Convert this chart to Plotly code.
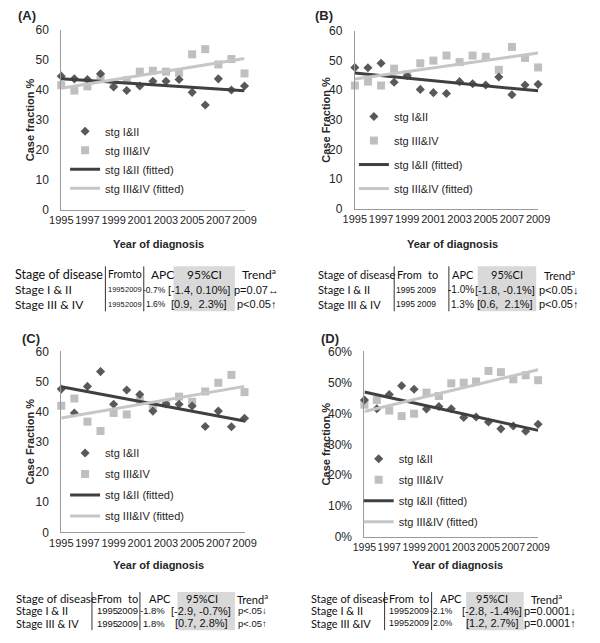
import plotly.graph_objects as go

# The page body adds an 8px margin, so the figure is sized to fit inside it
OFF = 8
W, H = 600 - OFF, 643 - OFF


def px(x):
    return (x - OFF) / W


def py(y):
    return 1 - (y - OFF) / H


# ---------------- data ----------------
years = [1995, 1996, 1997, 1998, 1999, 2000, 2001, 2002, 2003, 2004, 2005, 2006, 2007, 2008, 2009]
fit_years = [1995, 2009]
tick_years = [1995, 1997, 1999, 2001, 2003, 2005, 2007, 2009]

A_stg12 = [44.5, 43.6, 43.4, 45.3, 40.9, 39.7, 41.2, 42.8, 42.8, 43.4, 39.1, 34.9, 43.6, 39.9, 41.2]
A_stg34 = [41.5, 39.7, 41.1, 44.0, 42.0, 43.1, 46.0, 46.3, 46.0, 45.6, 51.8, 53.5, 48.4, 50.2, 45.4]
A_fit12 = [43.6, 39.6]
A_fit34 = [40.5, 50.4]

B_stg12 = [47.6, 47.5, 49.0, 42.6, 44.8, 40.2, 39.1, 38.8, 42.8, 42.1, 41.7, 44.4, 38.4, 41.7, 41.9]
B_stg34 = [41.5, 42.8, 41.5, 47.2, 45.2, 49.0, 49.9, 51.6, 49.4, 51.6, 51.2, 46.8, 54.5, 50.8, 47.6]
B_fit12 = [45.7, 39.7]
B_fit34 = [43.7, 52.5]

C_stg12 = [47.5, 39.6, 48.4, 53.3, 42.5, 47.2, 45.7, 40.2, 42.6, 42.5, 41.9, 35.1, 40.2, 35.0, 37.8]
C_stg34 = [42.0, 44.4, 36.7, 33.6, 39.6, 39.1, 43.8, 42.0, 42.8, 45.0, 43.3, 46.7, 49.6, 52.2, 46.5]
C_fit12 = [48.3, 36.9]
C_fit34 = [37.9, 48.4]

D_stg12 = [44.3, 41.5, 46.1, 48.9, 47.8, 41.4, 42.2, 41.5, 38.7, 38.8, 37.2, 35.0, 35.9, 34.2, 36.5]
D_stg34 = [42.8, 44.3, 40.9, 39.1, 39.9, 46.7, 45.6, 49.7, 49.9, 50.3, 53.7, 53.3, 51.0, 52.3, 50.7]
D_fit12 = [46.9, 34.5]
D_fit34 = [40.6, 54.1]

series_names = ["stg I&II", "stg III&IV", "stg I&II (fitted)", "stg III&IV (fitted)"]

table_header = ["Stage of disease", "From", "to", "APC", "95%CI", "Trend<sup>a</sup>"]
A_rows = [["Stage I & II", "1995", "2009", "-0.7%", "[-1.4, 0.10%]", "p=0.07\u2194"],
          ["Stage III & IV", "1995", "2009", "1.6%", "[0.9,  2.3%]", "p<0.05\u2191"]]
B_rows = [["Stage I & II", "1995", "2009", "-1.0%", "[-1.8, -0.1%]", "p<0.05\u2193"],
          ["Stage III & IV", "1995", "2009", "1.3%", "[0.6,  2.1%]", "p<0.05\u2191"]]
C_rows = [["Stage I & II", "1995", "2009", "-1.8%", "[-2.9, -0.7%]", "p<.05\u2193"],
          ["Stage III & IV", "1995", "2009", "1.8%", "[0.7, 2.8%]", "p<.05\u2191"]]
D_rows = [["Stage I & II", "1995", "2009", "-2.1%", "[-2.8, -1.4%]", "p=0.0001\u2193"],
          ["Stage III &IV", "1995", "2009", "2.0%", "[1.2, 2.7%]", "p=0.0001\u2191"]]

# ---------------- style ----------------
FONT = "Liberation Sans, Arial, sans-serif"
LATO = "Lato, Open Sans, sans-serif"
LIB = "Liberation Sans, Arial, sans-serif"
TXT = "#262626"
AXC = "#9a9a9a"
DARK = "#595959"
LIGHT = "#bfbfbf"
DARKL = "#404040"
LIGHTL = "#c6c6c6"

# table cell layout: (x, anchor, family, size) per column
panels = [
    dict(tag="(A)", tagxy=(4, 8), s12=A_stg12, s34=A_stg34, f12=A_fit12, f34=A_fit34,
         xd=(51, 242), yd=(23, 207), ytitle="Case fraction %", ytx=18, suffix="", xtick=11,
         xtitle_y=242, leg=(55, 112, 0),
         rows=A_rows, ty=(273, 289, 304),
         hcols=[(2, "left", LATO, 12.5), (99, "left", LATO, 10.5), (136, "right", LATO, 10.5),
                (157, "center", LATO, 12), (200, "center", LATO, 12), (257, "center", LATO, 12)],
         cols=[(2, "left", LATO, 12), (98.5, "left", LIB, 7.5), (136.5, "right", LIB, 7.5),
               (161, "right", LIB, 8.5), (195, "center", LIB, 11), (255, "center", LIB, 11)],
         vl=(97, 137), gray=(168, 232), tbox=(265, 311)),
    dict(tag="(B)", tagxy=(313, 8), s12=B_stg12, s34=B_stg34, f12=B_fit12, f34=B_fit34,
         xd=(357, 548), yd=(24, 206), ytitle="Case Fraction %", ytx=327, suffix="", xtick=11,
         xtitle_y=242, leg=(356, 97, 5),
         rows=B_rows, ty=(273, 289, 304),
         hcols=[(318, "left", LATO, 11), (400, "left", LATO, 11), (438, "center", LATO, 11),
                (470, "center", LATO, 11), (516, "center", LATO, 11), (570, "center", LATO, 11)],
         cols=[(318, "left", LATO, 11), (399, "left", LIB, 8.5), (443, "right", LIB, 8.5),
               (482, "right", LIB, 10), (514, "center", LIB, 11), (569, "center", LIB, 11)],
         vl=(398, 455), gray=(485, 546), tbox=(265, 311)),
    dict(tag="(C)", tagxy=(8, 339), s12=C_stg12, s34=C_stg34, f12=C_fit12, f34=C_fit34,
         xd=(51, 242), yd=(352, 537), ytitle="Case Fraction %", ytx=18, suffix="", xtick=11,
         xtitle_y=570, leg=(55, 441, 2),
         rows=C_rows, ty=(605, 617, 630),
         hcols=[(3, "left", LATO, 11.5), (87, "left", LATO, 11), (126, "center", LATO, 11),
                (154, "center", LATO, 11), (198, "center", LATO, 11), (250, "center", LATO, 11)],
         cols=[(3, "left", LATO, 11), (87, "left", LIB, 9.5), (132, "right", LIB, 9.5),
               (160, "right", LIB, 9.5), (197, "center", LIB, 11), (250, "center", LIB, 9.5)],
         vl=(83, 133), gray=(172, 232), tbox=(598, 637)),
    dict(tag="(D)", tagxy=(320, 339), s12=D_stg12, s34=D_stg34, f12=D_fit12, f34=D_fit34,
         xd=(367, 548), yd=(352, 542), ytitle="Case fraction %", ytx=327, suffix="%", xtick=10.5,
         xtitle_y=570, leg=(361, 447, 2),
         rows=D_rows, ty=(605, 617, 630),
         hcols=[(310, "left", LATO, 11), (392, "left", LATO, 11), (429, "center", LATO, 11),
                (457, "center", LATO, 11), (500, "center", LATO, 11), (557, "center", LATO, 11)],
         cols=[(310, "left", LATO, 11), (392, "left", LIB, 9), (435, "right", LIB, 9),
               (460, "right", LIB, 8.5), (500, "center", LIB, 11), (560, "center", LIB, 11)],
         vl=(388, 437), gray=(473, 533), tbox=(598, 637)),
]

fig = go.Figure()
annotations = []
shapes = []
layout_extra = {}

for i, p in enumerate(panels):
    n = "" if i == 0 else str(i + 1)
    xa, ya = "x" + n, "y" + n
    lg = "legend" + n
    traces = [
        (p["s34"], years, "markers", dict(symbol="square", size=8, color=LIGHT), None, 2),
        (p["s12"], years, "markers", dict(symbol="diamond", size=7, color=DARK), None, 1),
        (p["f12"], fit_years, "lines", None, dict(color=DARKL, width=3), 3),
        (p["f34"], fit_years, "lines", None, dict(color=LIGHTL, width=3), 4),
    ]
    for vals, xs, mode, mk, ln, rank in traces:
        kw = dict(x=xs, y=vals, mode=mode, name=series_names[rank - 1], xaxis=xa, yaxis=ya,
                  legend=lg, legendrank=rank, legendgroup=f"{i}_{rank}", cliponaxis=False,
                  hoverinfo="skip")
        if mk:
            kw["marker"] = mk
        if ln:
            kw["line"] = ln
        fig.add_trace(go.Scatter(**kw))

    xd, yd = p["xd"], p["yd"]
    layout_extra["xaxis" + n] = dict(
        domain=[px(xd[0]), px(xd[1])], anchor=ya, range=[1995, 2009],
        tickvals=tick_years, ticktext=[str(t) for t in tick_years], tickangle=0,
        showline=True, linecolor=AXC, linewidth=1, showgrid=False, zeroline=False,
        ticks="", tickfont=dict(family=FONT, size=p["xtick"], color=TXT), fixedrange=True)
    layout_extra["yaxis" + n] = dict(
        domain=[py(yd[1]), py(yd[0])], anchor=xa, range=[0, 60], dtick=10,
        ticksuffix=p["suffix"], showline=True, linecolor=AXC, linewidth=1,
        showgrid=False, zeroline=False, ticks="", ticklabelstandoff=9,
        tickfont=dict(family=FONT, size=12, color=TXT), fixedrange=True)
    lx, ly, gap = p["leg"]
    layout_extra[lg] = dict(
        x=px(lx), y=py(ly), xanchor="left", yanchor="top", bgcolor="rgba(0,0,0,0)",
        font=dict(family=FONT, size=11, color=TXT), traceorder="grouped",
        tracegroupgap=gap, borderwidth=0)

    # panel tag
    annotations.append(dict(text="<b>" + p["tag"] + "</b>", x=px(p["tagxy"][0]), y=py(p["tagxy"][1]),
                            xref="paper", yref="paper", xanchor="left", yanchor="middle",
                            showarrow=False, font=dict(family=FONT, size=13, color=TXT)))
    # axis titles
    annotations.append(dict(text="<b>" + p["ytitle"] + "</b>", x=px(p["ytx"]),
                            y=py((yd[0] + yd[1]) / 2), xref="paper", yref="paper",
                            textangle=-90, showarrow=False, xanchor="center", yanchor="middle",
                            font=dict(family=FONT, size=11, color=TXT)))
    annotations.append(dict(text="<b>Year of diagnosis</b>", x=px((xd[0] + xd[1]) / 2 + 6),
                            y=py(p["xtitle_y"]), xref="paper", yref="paper", showarrow=False,
                            xanchor="center", yanchor="middle",
                            font=dict(family=FONT, size=11, color=TXT)))

    # table
    g0, g1 = p["gray"]
    t0, t1 = p["tbox"]
    shapes.append(dict(type="rect", xref="paper", yref="paper", x0=px(g0), x1=px(g1),
                       y0=py(t1), y1=py(t0), fillcolor="#d9d9d9", line=dict(width=0), layer="below"))
    for vx in p["vl"]:
        shapes.append(dict(type="line", xref="paper", yref="paper", x0=px(vx), x1=px(vx),
                           y0=py(t1), y1=py(t0), line=dict(color="#333333", width=1)))
    for r, row in enumerate([table_header] + p["rows"]):
        cols = p["hcols"] if r == 0 else p["cols"]
        for c, txt in enumerate(row):
            cx, anc, fam, sz = cols[c]
            annotations.append(dict(text=txt, x=px(cx), y=py(p["ty"][r]), xref="paper", yref="paper",
                                    xanchor=anc, yanchor="middle", showarrow=False, borderpad=0,
                                    font=dict(family=fam, size=sz, color="#111111")))

fig.update_layout(
    width=W, height=H, margin=dict(l=0, r=0, t=0, b=0),
    paper_bgcolor="white", plot_bgcolor="white",
    annotations=annotations, shapes=shapes, **layout_extra)

fig.write_html("out.html")
